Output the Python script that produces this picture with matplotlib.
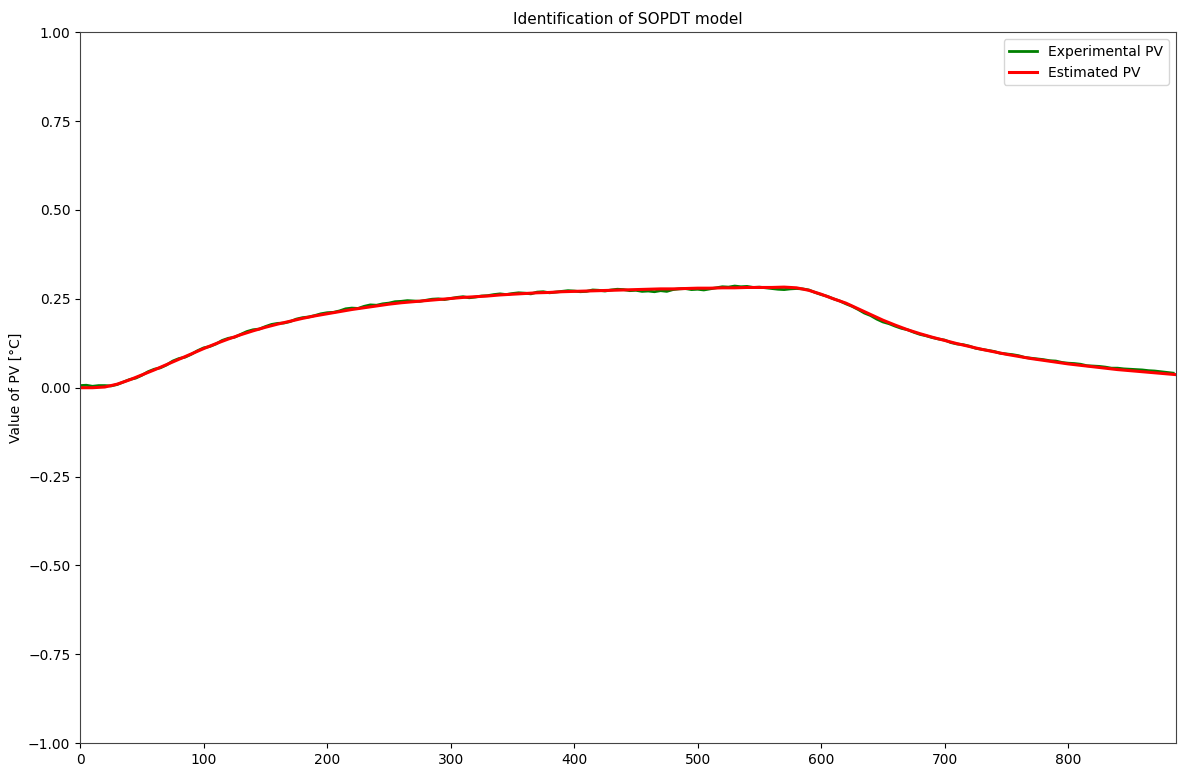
import matplotlib
matplotlib.use("Agg")
import matplotlib.pyplot as plt

# Measurement instants [s] and model evaluation instants [s]
time_meas = list(range(0, 890, 5))
time_model = list(range(0, 900, 10))

# Measured process value [°C]
pv_experimental = [
    0.006, 0.007, 0.004, 0.006, 0.006, 0.005, 0.009, 0.016, 0.023, 0.027,
    0.035, 0.045, 0.052, 0.056, 0.064, 0.075, 0.082, 0.086, 0.094, 0.104,
    0.112, 0.116, 0.123, 0.133, 0.139, 0.142, 0.150, 0.158, 0.163, 0.165,
    0.172, 0.178, 0.181, 0.182, 0.186, 0.193, 0.197, 0.199, 0.203, 0.208,
    0.211, 0.212, 0.216, 0.222, 0.224, 0.223, 0.229, 0.233, 0.232, 0.236,
    0.238, 0.242, 0.243, 0.245, 0.244, 0.243, 0.246, 0.249, 0.250, 0.248,
    0.251, 0.254, 0.256, 0.253, 0.255, 0.258, 0.259, 0.262, 0.264, 0.262,
    0.265, 0.267, 0.266, 0.264, 0.269, 0.270, 0.267, 0.269, 0.271, 0.273,
    0.272, 0.270, 0.271, 0.275, 0.274, 0.272, 0.275, 0.277, 0.276, 0.273,
    0.274, 0.271, 0.272, 0.270, 0.273, 0.271, 0.276, 0.278, 0.279, 0.276,
    0.277, 0.275, 0.278, 0.281, 0.284, 0.283, 0.286, 0.284, 0.285, 0.282,
    0.283, 0.281, 0.279, 0.277, 0.276, 0.278, 0.279, 0.278, 0.275, 0.268,
    0.262, 0.257, 0.250, 0.244, 0.236, 0.229, 0.220, 0.210, 0.203, 0.193,
    0.185, 0.180, 0.173, 0.167, 0.163, 0.156, 0.150, 0.146, 0.141, 0.137,
    0.134, 0.127, 0.123, 0.121, 0.117, 0.111, 0.108, 0.105, 0.102, 0.097,
    0.095, 0.093, 0.090, 0.085, 0.083, 0.081, 0.079, 0.076, 0.075, 0.071,
    0.069, 0.068, 0.066, 0.062, 0.061, 0.060, 0.058, 0.055, 0.055, 0.053,
    0.052, 0.051, 0.050, 0.048, 0.047, 0.045, 0.043, 0.041,
]

# SOPDT model response [°C]
pv_estimated = [
    0.000, 0.000, 0.002, 0.010, 0.022, 0.036, 0.050, 0.065, 0.080, 0.095,
    0.110, 0.124, 0.137, 0.149, 0.160, 0.170, 0.179, 0.187, 0.195, 0.202,
    0.208, 0.214, 0.220, 0.225, 0.230, 0.235, 0.239, 0.242, 0.245, 0.248,
    0.251, 0.254, 0.256, 0.258, 0.261, 0.263, 0.265, 0.267, 0.268, 0.270,
    0.271, 0.272, 0.273, 0.274, 0.275, 0.276, 0.277, 0.278, 0.278, 0.279,
    0.280, 0.280, 0.281, 0.281, 0.282, 0.282, 0.282, 0.283, 0.281, 0.274,
    0.263, 0.250, 0.238, 0.222, 0.206, 0.190, 0.176, 0.163, 0.152, 0.142,
    0.133, 0.124, 0.116, 0.108, 0.101, 0.094, 0.088, 0.082, 0.077, 0.072,
    0.067, 0.063, 0.059, 0.055, 0.051, 0.048, 0.045, 0.042, 0.039, 0.036,
]

fig = plt.figure(figsize=(11.78, 7.67), dpi=100)
ax = fig.add_axes([0.068, 0.031, 0.930, 0.927])

ax.plot(time_meas, pv_experimental, color="green", lw=2.0, label="Experimental PV")
ax.plot(time_model, pv_estimated, color="red", lw=2.2, label="Estimated PV")

ax.set_xlim(0, 887)
ax.set_ylim(-1, 1)
ax.set_yticks([-1.0, -0.75, -0.5, -0.25, 0.0, 0.25, 0.5, 0.75, 1.0])
ax.set_ylabel("Value of PV [°C]", fontsize=10)
ax.set_title("Identification of SOPDT model", fontsize=11)
ax.tick_params(labelsize=10)
for spine in ax.spines.values():
    spine.set_color("#444444")
ax.legend(loc="upper right", fontsize=10)

fig.savefig("out.png", dpi=100)
